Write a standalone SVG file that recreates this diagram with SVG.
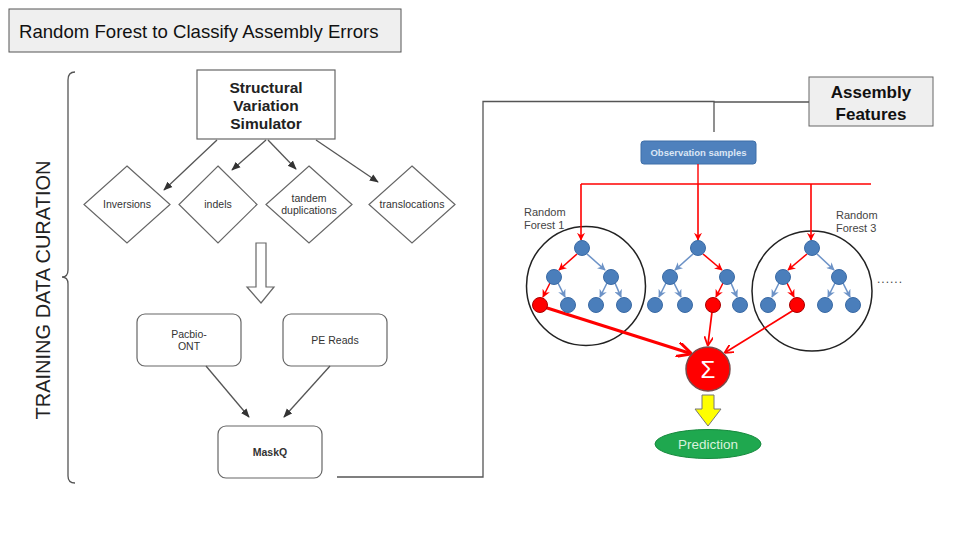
<svg xmlns="http://www.w3.org/2000/svg" width="960" height="540" viewBox="0 0 960 540">
<style>
text{font-family:"Liberation Sans",Arial,sans-serif}
.gline{fill:none;stroke:#555;stroke-width:1.3}
.dia{fill:#fff;stroke:#666;stroke-width:1.2}
.box{fill:#fff;stroke:#666;stroke-width:1.2}
.lbl{font-size:10.5px;fill:#333;text-anchor:middle}
.bn{fill:#4a7ebb;stroke:#3a6aa5;stroke-width:1}
.rn{fill:#f00;stroke:#a00;stroke-width:1}
.be{stroke:#6d93c7;stroke-width:1.6;fill:none;marker-end:url(#ab)}
.re{stroke:#f00;stroke-width:1.6;fill:none;marker-end:url(#ar)}
.rt{stroke:#f00;stroke-width:1.4;fill:none}
.rc{fill:none;stroke:#222;stroke-width:1.5}
.fl{font-size:11px;fill:#444}
</style>
<defs>
<marker id="ag" viewBox="0 0 10 10" refX="9" refY="5" markerWidth="7" markerHeight="7" orient="auto"><path d="M0,1 L10,5 L0,9 Z" fill="#333"/></marker>
<marker id="ab" viewBox="0 0 10 10" refX="9" refY="5" markerWidth="5" markerHeight="5" orient="auto"><path d="M0,0 L10,5 L0,10 L3,5 Z" fill="#6d93c7"/></marker>
<marker id="ar" viewBox="0 0 10 10" refX="9" refY="5" markerWidth="5" markerHeight="5" orient="auto"><path d="M0,0 L10,5 L0,10 L3,5 Z" fill="#f00"/></marker>
<marker id="ar2" viewBox="0 0 10 10" refX="8" refY="5" markerWidth="5" markerHeight="5" orient="auto"><path d="M0,0 L10,5 L0,10" fill="none" stroke="#f00" stroke-width="2"/></marker>
</defs>
<rect width="960" height="540" fill="#fff"/>

<g id="title">
<rect x="9" y="9" width="392" height="43" fill="#efefef" stroke="#555" stroke-width="1"/>
<text x="19" y="38" font-size="18.6" fill="#111">Random Forest to Classify Assembly Errors</text>
</g>

<g id="brace">
<path d="M75,72 Q68,72 68,80 L68,270 Q68,277 62,277 Q68,277 68,284 L68,476 Q68,483 75,483" class="gline" stroke-width="1.1"/>
<text transform="translate(50,290) rotate(-90)" font-size="20" fill="#222" text-anchor="middle">TRAINING DATA CURATION</text>
</g>

<g id="simulator">
<rect x="197" y="70" width="138" height="69" class="box"/>
<text x="266" y="93" font-size="15.5" font-weight="bold" fill="#222" text-anchor="middle">Structural</text>
<text x="266" y="111" font-size="15.5" font-weight="bold" fill="#222" text-anchor="middle">Variation</text>
<text x="266" y="129" font-size="15.5" font-weight="bold" fill="#222" text-anchor="middle">Simulator</text>
</g>

<g id="inversions">
<polygon points="127,166 170,204.5 127,243 84,204.5" class="dia"/>
<text x="127" y="208" class="lbl">Inversions</text>
</g>
<g id="indels">
<polygon points="218,166 257,204.5 218,243 179,204.5" class="dia"/>
<text x="218" y="208" class="lbl">indels</text>
</g>
<g id="tandem">
<polygon points="309,166 352,204.5 309,243 266,204.5" class="dia"/>
<text x="309" y="202" class="lbl">tandem</text>
<text x="309" y="214" class="lbl">duplications</text>
</g>
<g id="translocations">
<polygon points="412,166 455,204.5 412,243 369,204.5" class="dia"/>
<text x="412" y="208" class="lbl">translocations</text>
</g>

<g id="hollow-arrow">
<polygon points="256,243 266,243 266,287 274,287 261,303 247,287 256,287" fill="#fff" stroke="#666" stroke-width="1.2"/>
</g>

<g id="pacbio">
<rect x="137" y="314" width="104" height="52" rx="8" class="box"/>
<text x="189" y="338" class="lbl">Pacbio-</text>
<text x="189" y="350" class="lbl">ONT</text>
</g>
<g id="pe-reads">
<rect x="283" y="314" width="104" height="52" rx="8" class="box"/>
<text x="335" y="344" class="lbl">PE Reads</text>
</g>
<g id="maskq">
<rect x="218" y="426" width="104" height="52" rx="8" class="box"/>
<text x="270" y="456" class="lbl" font-weight="bold" fill="#222">MaskQ</text>
</g>

<g id="assembly-features">
<rect x="809" y="77" width="124" height="49" fill="#efefef" stroke="#666" stroke-width="1"/>
<text x="871" y="98" font-size="17" font-weight="bold" fill="#111" text-anchor="middle">Assembly</text>
<text x="871" y="120" font-size="17" font-weight="bold" fill="#111" text-anchor="middle">Features</text>
</g>

<g id="observation-samples">
<rect x="641" y="141" width="115" height="23" rx="3" fill="#4f81bd" stroke="#3f6fa8" stroke-width="1"/>
<text x="698.5" y="156" font-size="9.5" font-weight="bold" fill="#dbe6f5" text-anchor="middle">Observation samples</text>
</g>

<g id="forest-1">
<circle cx="586" cy="286" r="59.5" class="rc"/>
<text x="524" y="216" class="fl">Random</text>
<text x="524" y="229" class="fl">Forest 1</text>
</g>
<g id="forest-3">
<circle cx="812" cy="291" r="60" class="rc"/>
<text x="836" y="219" class="fl">Random</text>
<text x="836" y="232" class="fl">Forest 3</text>
<text x="877" y="283" font-size="12" fill="#444" letter-spacing="1">......</text>
</g>

<g id="connectors">
<line x1="217" y1="140" x2="164" y2="190" class="gline" marker-end="url(#ag)"/>
<line x1="266" y1="140" x2="232" y2="170" class="gline" marker-end="url(#ag)"/>
<line x1="268" y1="140" x2="296" y2="169" class="gline" stroke="#999" marker-end="url(#ag)"/>
<line x1="316" y1="140" x2="378" y2="182" class="gline" marker-end="url(#ag)"/>
<line x1="206" y1="366" x2="249" y2="417" class="gline" marker-end="url(#ag)"/>
<line x1="330" y1="366" x2="284" y2="417" class="gline" marker-end="url(#ag)"/>
<polyline points="337,477 483,477 483,101.5 714,101.5 714,132" class="gline" stroke-width="1.1"/>
<line x1="714" y1="102" x2="809" y2="102" class="gline" stroke-width="1.1"/>
<line x1="698" y1="164" x2="698" y2="184" class="rt"/>
<line x1="581" y1="184" x2="871" y2="184" class="rt"/>
<line x1="581" y1="184" x2="581" y2="240" class="re"/>
<line x1="698" y1="184" x2="698" y2="240" class="re"/>
<line x1="811" y1="184" x2="811" y2="240" class="re"/>
<line x1="577" y1="254" x2="559" y2="270" class="re"/>
<line x1="587" y1="254" x2="605" y2="270" class="be"/>
<line x1="550" y1="283" x2="543" y2="297" class="re"/>
<line x1="558" y1="283" x2="565" y2="297" class="be"/>
<line x1="607" y1="283" x2="600" y2="297" class="be"/>
<line x1="615" y1="283" x2="621" y2="297" class="be"/>
<line x1="693" y1="254" x2="675" y2="270" class="be"/>
<line x1="703" y1="254" x2="722" y2="270" class="re"/>
<line x1="666" y1="283" x2="659" y2="297" class="be"/>
<line x1="674" y1="283" x2="681" y2="297" class="be"/>
<line x1="723" y1="283" x2="716" y2="297" class="re"/>
<line x1="731" y1="283" x2="737" y2="297" class="be"/>
<line x1="807" y1="254" x2="788" y2="270" class="re"/>
<line x1="817" y1="254" x2="834" y2="270" class="be"/>
<line x1="779" y1="283" x2="772" y2="297" class="be"/>
<line x1="787" y1="283" x2="794" y2="297" class="re"/>
<line x1="835" y1="283" x2="828" y2="297" class="be"/>
<line x1="843" y1="283" x2="850" y2="297" class="be"/>
<line x1="544" y1="307" x2="689" y2="353" stroke="#f00" stroke-width="3" marker-end="url(#ar2)"/>
<line x1="712" y1="312" x2="708" y2="344" stroke="#f00" stroke-width="1.8" marker-end="url(#ar2)"/>
<line x1="797" y1="308" x2="726" y2="352" stroke="#f00" stroke-width="1.8" marker-end="url(#ar2)"/>
</g>

<g id="tree-nodes">
<circle cx="582" cy="248" r="7.5" class="bn"/>
<circle cx="554" cy="277" r="7.5" class="bn"/>
<circle cx="611" cy="277" r="7.5" class="bn"/>
<circle cx="540" cy="305" r="7.5" class="rn"/>
<circle cx="568" cy="305" r="7.5" class="bn"/>
<circle cx="596" cy="305" r="7.5" class="bn"/>
<circle cx="624" cy="305" r="7.5" class="bn"/>
<circle cx="698" cy="248" r="7.5" class="bn"/>
<circle cx="670" cy="277" r="7.5" class="bn"/>
<circle cx="727" cy="277" r="7.5" class="bn"/>
<circle cx="655" cy="305" r="7.5" class="bn"/>
<circle cx="685" cy="305" r="7.5" class="bn"/>
<circle cx="713" cy="305" r="7.5" class="rn"/>
<circle cx="740" cy="305" r="7.5" class="bn"/>
<circle cx="812" cy="248" r="7.5" class="bn"/>
<circle cx="783" cy="277" r="7.5" class="bn"/>
<circle cx="839" cy="277" r="7.5" class="bn"/>
<circle cx="768" cy="305" r="7.5" class="bn"/>
<circle cx="797" cy="305" r="7.5" class="rn"/>
<circle cx="825" cy="305" r="7.5" class="bn"/>
<circle cx="853" cy="305" r="7.5" class="bn"/>
</g>

<g id="sum">
<circle cx="708" cy="369" r="22" fill="#f00" stroke="#7a4a4a" stroke-width="1.5"/>
<text x="708" y="378" font-size="24" fill="#fff" text-anchor="middle" font-family="DejaVu Sans,sans-serif">Σ</text>
</g>

<g id="yellow-arrow">
<polygon points="702,395 714,395 714,409 721,409 708,426 695,409 702,409" fill="#ff0" stroke="#777" stroke-width="1"/>
</g>

<g id="prediction">
<ellipse cx="708" cy="444" rx="53" ry="14.5" fill="#1fa84f" stroke="#178a3e" stroke-width="1"/>
<text x="708" y="449" font-size="13.5" fill="#d9f2dc" text-anchor="middle">Prediction</text>
</g>
</svg>
